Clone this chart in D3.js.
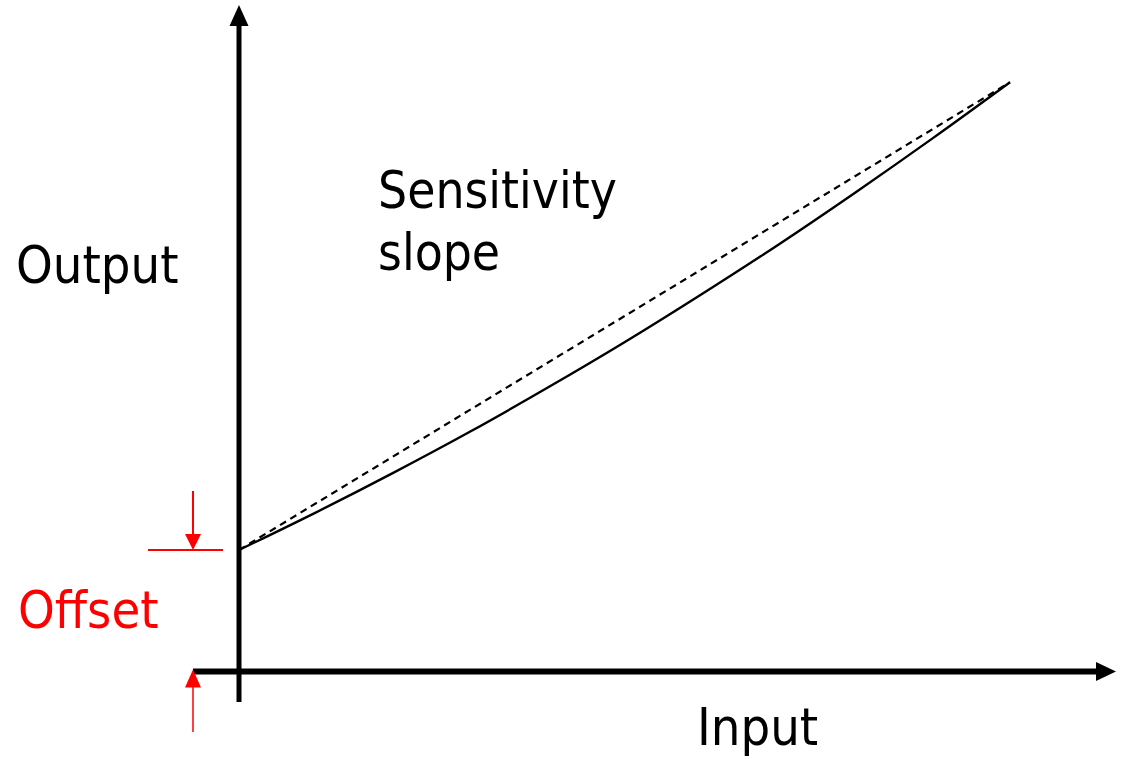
<!DOCTYPE html>
<html>
<head>
<meta charset="utf-8">
<script src="https://cdn.jsdelivr.net/npm/d3@7"></script>
<style>
  html, body { margin: 0; padding: 0; background: #fff; }
  svg { display: block; }
  text { font-family: "DejaVu Sans Condensed", Tahoma, "Liberation Sans", sans-serif; }
</style>
</head>
<body>
<main></main>
<script>
// input values (arbitrary units)
var inputs = [0, 1, 2, 3, 4, 5, 6, 7, 8, 9, 10];
// measured response (curved) and ideal straight sensitivity line
var actualOutput = [2.0, 2.62, 3.27, 3.95, 4.67, 5.42, 6.21, 7.03, 7.89, 8.78, 9.70];
var idealInputs = [0, 10];
var idealOutput = [2.0, 9.70];
var offsetValue = 2.0;

var labels = {
    x: "Input",
    y: "Output",
    slope: ["Sensitivity", "slope"],
    offset: "Offset"
};

var width = 1126, height = 759;

var svg = d3.select("main")
    .append("svg")
    .attr("width", width)
    .attr("height", height);

var x = d3.scaleLinear().domain([0, 10]).range([239, 1010]);
var y = d3.scaleLinear().domain([0, 10]).range([671.5, 64]);

var plot = svg.append("g").attr("id", "plot-area");

// axes
var x0 = x(0), y0 = y(0);

plot.append("line")
    .attr("x1", x0).attr("x2", x0)
    .attr("y1", 702).attr("y2", 24)
    .attr("stroke", "#000")
    .attr("stroke-width", 5);

plot.append("path")
    .attr("d", "M" + x0 + ",5 L" + (x0 + 9.5) + ",26 L" + (x0 - 9.5) + ",26 Z")
    .attr("fill", "#000");

plot.append("line")
    .attr("x1", 193).attr("x2", 1098)
    .attr("y1", y0).attr("y2", y0)
    .attr("stroke", "#000")
    .attr("stroke-width", 6);

plot.append("path")
    .attr("d", "M1116," + y0 + " L1096," + (y0 - 9.5) + " L1096," + (y0 + 9.5) + " Z")
    .attr("fill", "#000");

// ideal (dashed) line
var idealLine = d3.line()
    .x(function (d, i) { return x(idealInputs[i]); })
    .y(function (d) { return y(d); });

plot.append("path")
    .datum(idealOutput)
    .attr("d", idealLine)
    .attr("fill", "none")
    .attr("stroke", "#000")
    .attr("stroke-width", 2.2)
    .attr("stroke-dasharray", "7,5");

// actual response curve
var curve = d3.line()
    .x(function (d, i) { return x(inputs[i]); })
    .y(function (d) { return y(d); })
    .curve(d3.curveMonotoneX);

plot.append("path")
    .datum(actualOutput)
    .attr("d", curve)
    .attr("fill", "none")
    .attr("stroke", "#000")
    .attr("stroke-width", 2.4);

// offset marker
var yo = y(offsetValue);
var red = "#ff0000";

plot.append("line")
    .attr("x1", 148).attr("x2", 223)
    .attr("y1", yo).attr("y2", yo)
    .attr("stroke", red)
    .attr("stroke-width", 2);

plot.append("line")
    .attr("x1", 193).attr("x2", 193)
    .attr("y1", 491).attr("y2", yo - 14)
    .attr("stroke", red)
    .attr("stroke-width", 2);

plot.append("path")
    .attr("d", "M193," + yo + " L185," + (yo - 16) + " L201," + (yo - 16) + " Z")
    .attr("fill", red);

plot.append("line")
    .attr("x1", 193).attr("x2", 193)
    .attr("y1", y0 + 15).attr("y2", 732)
    .attr("stroke", red)
    .attr("stroke-width", 1.5);

plot.append("path")
    .attr("d", "M193," + (y0 - 2) + " L185," + (y0 + 16) + " L201," + (y0 + 16) + " Z")
    .attr("fill", red);

// labels
var fontSize = 52;

svg.append("text")
    .attr("x", 16).attr("y", 283)
    .attr("font-size", fontSize)
    .text(labels.y);

svg.append("text")
    .attr("x", 697).attr("y", 745)
    .attr("font-size", fontSize)
    .text(labels.x);

svg.selectAll("text.slope")
    .data(labels.slope)
    .enter()
    .append("text")
    .attr("class", "slope")
    .attr("x", 378)
    .attr("y", function (d, i) { return 208 + i * 62; })
    .attr("font-size", 51)
    .text(function (d) { return d; });

svg.append("text")
    .attr("x", 18).attr("y", 628)
    .attr("font-size", fontSize)
    .attr("fill", red)
    .text(labels.offset);
</script>
</body>
</html>
